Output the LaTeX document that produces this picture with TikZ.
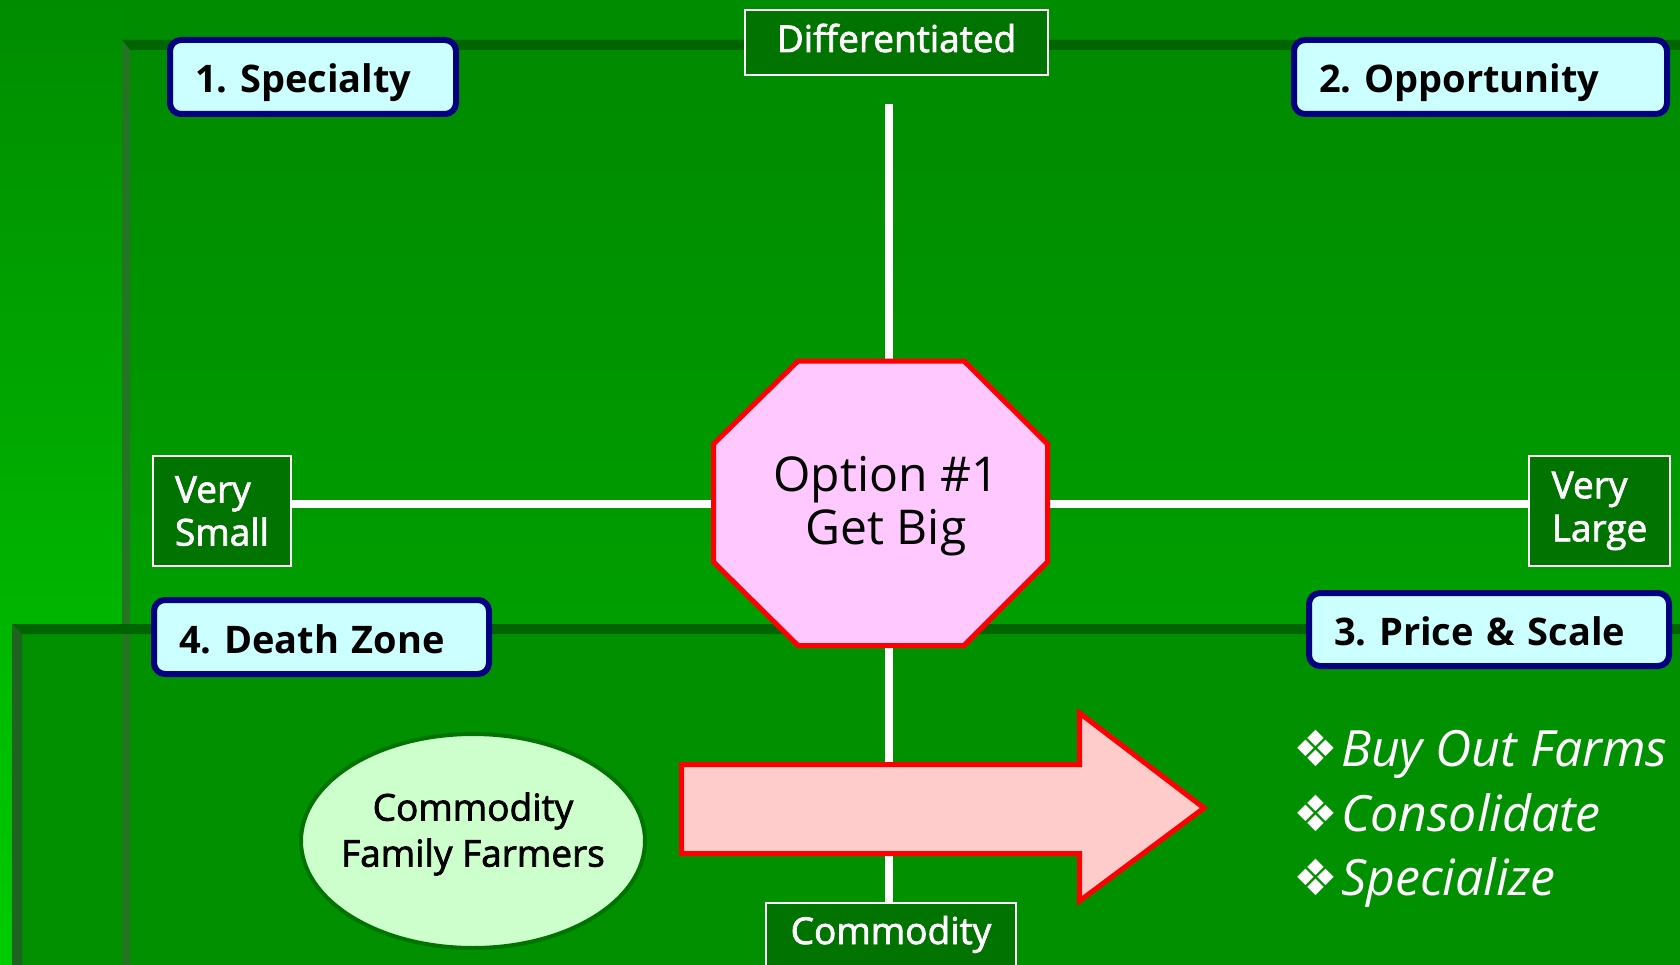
\documentclass[tikz,border=0pt]{standalone}
\usepackage{fontspec}
\setmainfont{Open Sans}
\newfontfamily\semifont{Open Sans}[FakeBold=2]
\newfontfamily\dingfont{DejaVu Sans}
\usetikzlibrary{shapes.geometric}
\frenchspacing

\definecolor{fieldgreen}{HTML}{008C00}
\definecolor{litegreen}{HTML}{00CC00}
\definecolor{rimgreen}{HTML}{006400}
\definecolor{bevelgreen}{HTML}{237523}
\definecolor{paneltop}{HTML}{008A00}
\definecolor{panelbottom}{HTML}{00AA00}
\definecolor{panelgreen}{HTML}{009000}
\definecolor{signgreen}{HTML}{007300}
\definecolor{labelnavy}{HTML}{000080}
\definecolor{labelcyan}{HTML}{CCFFFF}
\definecolor{stoppink}{HTML}{FFC8FF}
\definecolor{arrowpink}{HTML}{FFCCCC}
\definecolor{farmgreen}{HTML}{CCFFCC}

\begin{document}
\begin{tikzpicture}[x=1pt, y=-1pt]
    % Setup the styles for the boxes and lines
    \tikzset{zone box/.style={draw=labelnavy, line width=6pt, fill=labelcyan,
                              rounded corners=11pt, minimum height=74pt,
                              inner xsep=25pt, inner ysep=0pt, align=left,
                              text height=41pt, text depth=9pt,
                              font=\fontsize{38}{46}\selectfont\bfseries},
             axis box/.style={draw=white, line width=2pt, fill=signgreen,
                              text=white, inner sep=0pt, align=left,
                              font=\fontsize{37}{43}\selectfont\semifont},
             axis line/.style={draw=white, line width=8pt},
             farm ellipse/.style={ellipse, draw=signgreen, line width=4pt,
                                  fill=farmgreen, inner sep=0pt,
                                  minimum width=344pt, minimum height=214pt},
             tactic/.style={anchor=base west, text=white, inner sep=0pt,
                            font=\fontsize{50}{58}\selectfont\itshape}}

    \useasboundingbox (0,0) rectangle (1680,965);

    % Draw the background and the panels
    \fill[fieldgreen] (0,0) rectangle (1680,965);
    \shade[top color=fieldgreen, bottom color=litegreen] (0,0) rectangle (122,965);
    \shade[top color=paneltop, bottom color=panelbottom] (122,40) rectangle (1680,965);
    \fill[rimgreen] (122,40) -- (1680,40) -- (1680,50) -- (130,50) -- cycle;
    \fill[bevelgreen] (122,40) -- (130,50) -- (130,965) -- (122,965) -- cycle;
    \fill[panelgreen] (12,624) rectangle (1680,965);
    \fill[rimgreen] (12,624) -- (1680,624) -- (1680,634) -- (22,634) -- cycle;
    \fill[bevelgreen!85!black] (12,624) -- (22,634) -- (22,965) -- (12,965) -- cycle;
    \fill[bevelgreen] (122,634) rectangle (130,965);

    % Draw the axis boxes
    \node[axis box, minimum width=303pt, minimum height=65pt,
          text height=28pt, text depth=9pt]                    (diff)  at (896.5,42.5) {Differentiated};
    \node[axis box, minimum width=138pt, minimum height=110pt] (small) at (222,511)    {Very\\Small};
    \node[axis box, minimum width=141pt, minimum height=110pt] (large) at (1599.5,511) {Very\\Large};
    \node[axis box, minimum width=250pt, anchor=north,
          text height=41pt, text depth=40pt]                   (comm)  at (891,902)    {Commodity};

    % Draw the axes
    \coordinate (ridge) at (889,104);
    \draw[axis line] (ridge) -- (ridge |- comm.north);
    \draw[axis line] ([yshift=7pt]small.east) -- ([yshift=7pt]large.west);

    % Draw the stop sign and the arrow
    \draw[red, line width=5pt, fill=stoppink]
        (798,361) -- (964,361) -- (1047.5,444) -- (1047.5,562) -- (964,645.5)
        -- (798,645.5) -- (713.5,562) -- (713.5,444) -- cycle;
    \node[font=\fontsize{48}{53}\selectfont, align=center] (option) at (886,506) {Option \#1\\Get Big};
    \draw[red, line width=5pt, fill=arrowpink]
        (681.5,764.5) -- (1079.5,764.5) -- (1079.5,713) -- (1204,808)
        -- (1079.5,901) -- (1079.5,853.5) -- (681.5,853.5) -- cycle;

    % Draw the zones
    \node[zone box, text width=236pt]                     (specialty)   at (313,77)     {1. Specialty};
    \node[zone box, text width=323pt]                     (opportunity) at (1480.5,77)  {2. Opportunity};
    \node[zone box, text width=285pt]                     (deathzone)   at (321.5,637)  {4. Death Zone};
    \node[zone box, text width=310pt, minimum height=73pt] (pricescale) at (1489,629.5) {3. Price \& Scale};

    % Draw the farmers and what they do
    \node[farm ellipse, label={[font=\fontsize{37}{46}\selectfont\semifont, align=center, yshift=7pt]center:Commodity\\Family Farmers}]
        (farmers) at (473,841) {};
    \node[tactic] (buyout)  at (1293,766) {{\upshape\dingfont ❖}\kern3pt Buy Out Farms};
    \node[tactic] (consol)  at (1293,831) {{\upshape\dingfont ❖}\kern3pt Consolidate};
    \node[tactic] (special) at (1293,895) {{\upshape\dingfont ❖}\kern3pt Specialize};
\end{tikzpicture}
\end{document}
